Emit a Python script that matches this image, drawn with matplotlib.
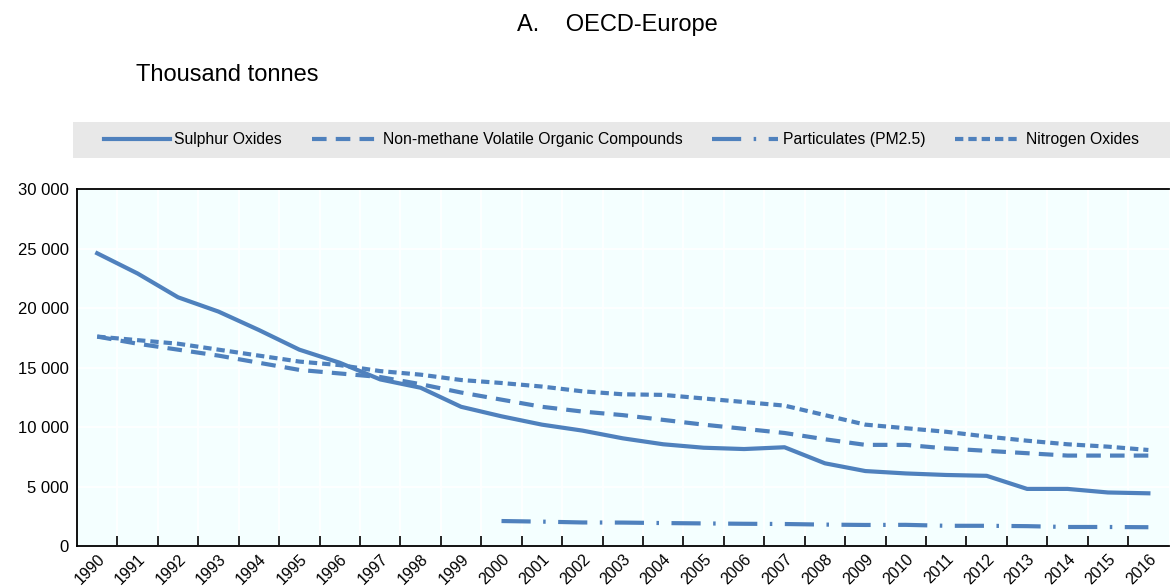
import matplotlib.pyplot as plt
import matplotlib.patches as mpatches
import numpy as np

# Données (milliers de tonnes)
years = [str(y) for y in range(1990, 2017)]
sulphur = [24.6, 22.9, 20.9, 19.7, 18.15, 16.5, 15.4, 14.0, 13.3, 11.7, 10.9, 10.2, 9.7,
           9.05, 8.55, 8.26, 8.15, 8.3, 6.95, 6.3, 6.1, 5.97, 5.9, 4.8, 4.8, 4.5, 4.43]
nmvoc = [17.6, 17.0, 16.5, 16.0, 15.4, 14.8, 14.5, 14.2, 13.6, 12.9, 12.3, 11.7, 11.3,
         11.0, 10.6, 10.2, 9.85, 9.5, 8.97, 8.5, 8.5, 8.2, 8.0, 7.8, 7.6, 7.6, 7.6]
pm25 = [None] * 10 + [2.1, 2.05, 1.98, 1.97, 1.93, 1.9, 1.87, 1.85, 1.8, 1.77, 1.78,
                      1.7, 1.7, 1.67, 1.6, 1.6, 1.58]
nitrogen = [17.6, 17.3, 17.0, 16.5, 16.0, 15.5, 15.2, 14.7, 14.4, 13.95, 13.7, 13.4, 13.0,
            12.75, 12.7, 12.4, 12.1, 11.8, 11.0, 10.2, 9.9, 9.6, 9.2, 8.85, 8.55, 8.35, 8.07]

plt.rcParams['font.family'] = ['Liberation Sans', 'DejaVu Sans']
color = '#4F81BD'

fig = plt.figure(figsize=(11.7, 5.87), dpi=100)
ax = fig.add_axes([0.0658, 0.0698, 0.933, 0.6082])
ax.set_facecolor('#F4FFFF')

x = np.arange(len(years))
to_arr = lambda v: np.array([np.nan if a is None else a * 1000 for a in v])

ax.plot(x, to_arr(sulphur), color=color, lw=3, label='Sulphur Oxides')
ax.plot(x, to_arr(nmvoc), color=color, lw=3, dashes=(3.5, 2.2),
        label='Non-methane Volatile Organic Compounds')
ax.plot(x, to_arr(pm25), color=color, lw=3, dashes=(7, 3, 0.6, 3),
        label='Particulates (PM2.5)')
ax.plot(x, to_arr(nitrogen), color=color, lw=3, dashes=(2, 1.2), label='Nitrogen Oxides')

ax.set_xlim(-0.5, len(years) - 0.5)
ax.set_ylim(0, 30000)
ax.set_yticks(range(0, 30001, 5000))
ax.set_yticklabels([f'{v:,}'.replace(',', ' ') for v in range(0, 30001, 5000)], fontsize=12)
ax.set_xticks(x)
ax.set_xticklabels(years, rotation=45, ha='right', rotation_mode='anchor', fontsize=11.5)
ax.set_xticks(x[:-1] + 0.5, minor=True)
ax.tick_params(axis='x', which='major', length=0, pad=4)
ax.tick_params(axis='x', which='minor', direction='in', length=7, width=1.2)
ax.tick_params(axis='y', length=0, pad=6)

ax.grid(axis='y', color='white', lw=1.2)
ax.grid(axis='x', which='minor', color='white', lw=1.2)
ax.set_axisbelow(True)
for s in ['left', 'bottom', 'top']:
    ax.spines[s].set_linewidth(1.3)
ax.spines['right'].set_visible(False)

# Bandeau de légende gris
fig.patches.append(mpatches.Rectangle((0.062, 0.731), 0.938, 0.061, transform=fig.transFigure,
                                      facecolor='#E8E8E8', edgecolor='none', zorder=0))
fig.legend(loc='center', bbox_to_anchor=(0.531, 0.7615), ncol=4, frameon=False,
           fontsize=11.3, handlelength=4.2, columnspacing=1.9, handletextpad=0.3)

fig.text(0.528, 0.958, 'A.    OECD-Europe', ha='center', va='center', fontsize=17)
fig.text(0.116, 0.873, 'Thousand tonnes', ha='left', va='center', fontsize=17)

plt.savefig('out.png', dpi=100)
